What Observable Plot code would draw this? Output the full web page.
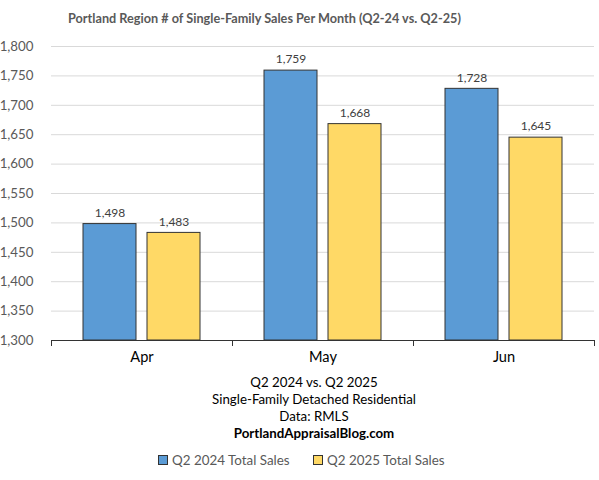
<!DOCTYPE html>
<html>
<head>
<meta charset="utf-8">
<script src="https://cdn.jsdelivr.net/npm/d3@7"></script>
<script src="https://cdn.jsdelivr.net/npm/@observablehq/plot@0.6"></script>
<style>
  html, body { margin: 0; padding: 0; background: #fff; }
  #wrap { position: relative; width: 599px; height: 480px; font-family: Lato, "Open Sans", sans-serif; }
  #title { position: absolute; left: 68px; top: 10px; font-size: 12.7px; font-weight: bold; color: #595959; white-space: nowrap; }
  #chart { position: absolute; left: 0; top: 0; }
  #caption { position: absolute; left: 5px; width: 618px; top: 374px; text-align: center; font-size: 13.3px; color: #000; line-height: 17px; }
  #legend { position: absolute; top: 452px; left: 0; font-size: 13.4px; color: #595959; white-space: nowrap; }
  .item { position: absolute; top: 0; white-space: nowrap; }
  .sw { display: inline-block; width: 8px; height: 8px; border: 1px solid #333; margin-right: 4px; vertical-align: 0px; }
</style>
</head>
<body>
<div id="wrap">
  <div id="chart"></div>
  <div id="title">Portland Region # of Single-Family Sales Per Month (Q2-24 vs. Q2-25)</div>
  <div id="caption">
    <div>Q2 2024 vs. Q2 2025</div>
    <div>Single-Family Detached Residential</div>
    <div>Data: RMLS</div>
    <div style="font-weight:bold">PortlandAppraisalBlog.com</div>
  </div>
  <div id="legend"></div>
</div>
<script>
const months = ["Apr", "May", "Jun"];
const seriesNames = ["Q2 2024 Total Sales", "Q2 2025 Total Sales"];
const sales2024 = [1498, 1759, 1728];
const sales2025 = [1483, 1668, 1645];
const yTicks = [1300, 1350, 1400, 1450, 1500, 1550, 1600, 1650, 1700, 1750, 1800];
const seriesColors = ["#5B9BD5", "#FFD966"];

const data = [];
months.forEach((m, i) => {
  data.push({month: m, series: seriesNames[0], value: sales2024[i]});
  data.push({month: m, series: seriesNames[1], value: sales2025[i]});
});

const height = 370, marginTop = 46, marginBottom = 30;
const innerH = height - marginTop - marginBottom;

const chart = Plot.plot({
  width: 599,
  height,
  marginLeft: 50,
  marginRight: 5,
  marginTop,
  marginBottom,
  style: {fontFamily: "Lato, 'Open Sans', sans-serif", background: "transparent"},
  fx: {domain: months, padding: 0, label: null},
  x: {domain: seriesNames, paddingInner: 0.169, paddingOuter: 0.48, axis: null},
  y: {domain: [1300, 1800], label: null},
  color: {domain: seriesNames, range: seriesColors},
  marks: [
    Plot.ruleY(yTicks.slice(1), {stroke: "#d9d9d9", strokeWidth: 1}),
    Plot.axisY({ticks: yTicks, tickSize: 0, tickPadding: 18, tickFormat: d3.format(","), fontSize: 13.3, fill: "#595959", label: null}),
    Plot.axisFx({anchor: "bottom", tickSize: 0, tickPadding: 11, fontSize: 14.6, fill: "#000", label: null}),
    Plot.barY(data, {fx: "month", x: "series", y1: 1300, y2: "value", fill: "series", stroke: "#333", strokeWidth: 1}),
    Plot.text(data, {fx: "month", x: "series", y: "value", text: d => d3.format(",")(d.value), dy: -11, fontSize: 12, fill: "#404040"}),
    Plot.ruleY([1300], {stroke: "#333", strokeWidth: 1}),
    Plot.frame({anchor: "left", insetTop: innerH, insetBottom: -5, stroke: "#333"}),
    Plot.frame({anchor: "right", insetTop: innerH, insetBottom: -5, stroke: "#333"})
  ]
});
document.getElementById("chart").appendChild(chart);

const legend = document.getElementById("legend");
const legendLeft = [158, 313];
seriesNames.forEach((name, i) => {
  const item = document.createElement("div");
  item.className = "item";
  item.style.left = legendLeft[i] + "px";
  const sw = document.createElement("span");
  sw.className = "sw";
  sw.style.background = seriesColors[i];
  item.appendChild(sw);
  item.appendChild(document.createTextNode(name));
  legend.appendChild(item);
});
</script>
</body>
</html>
